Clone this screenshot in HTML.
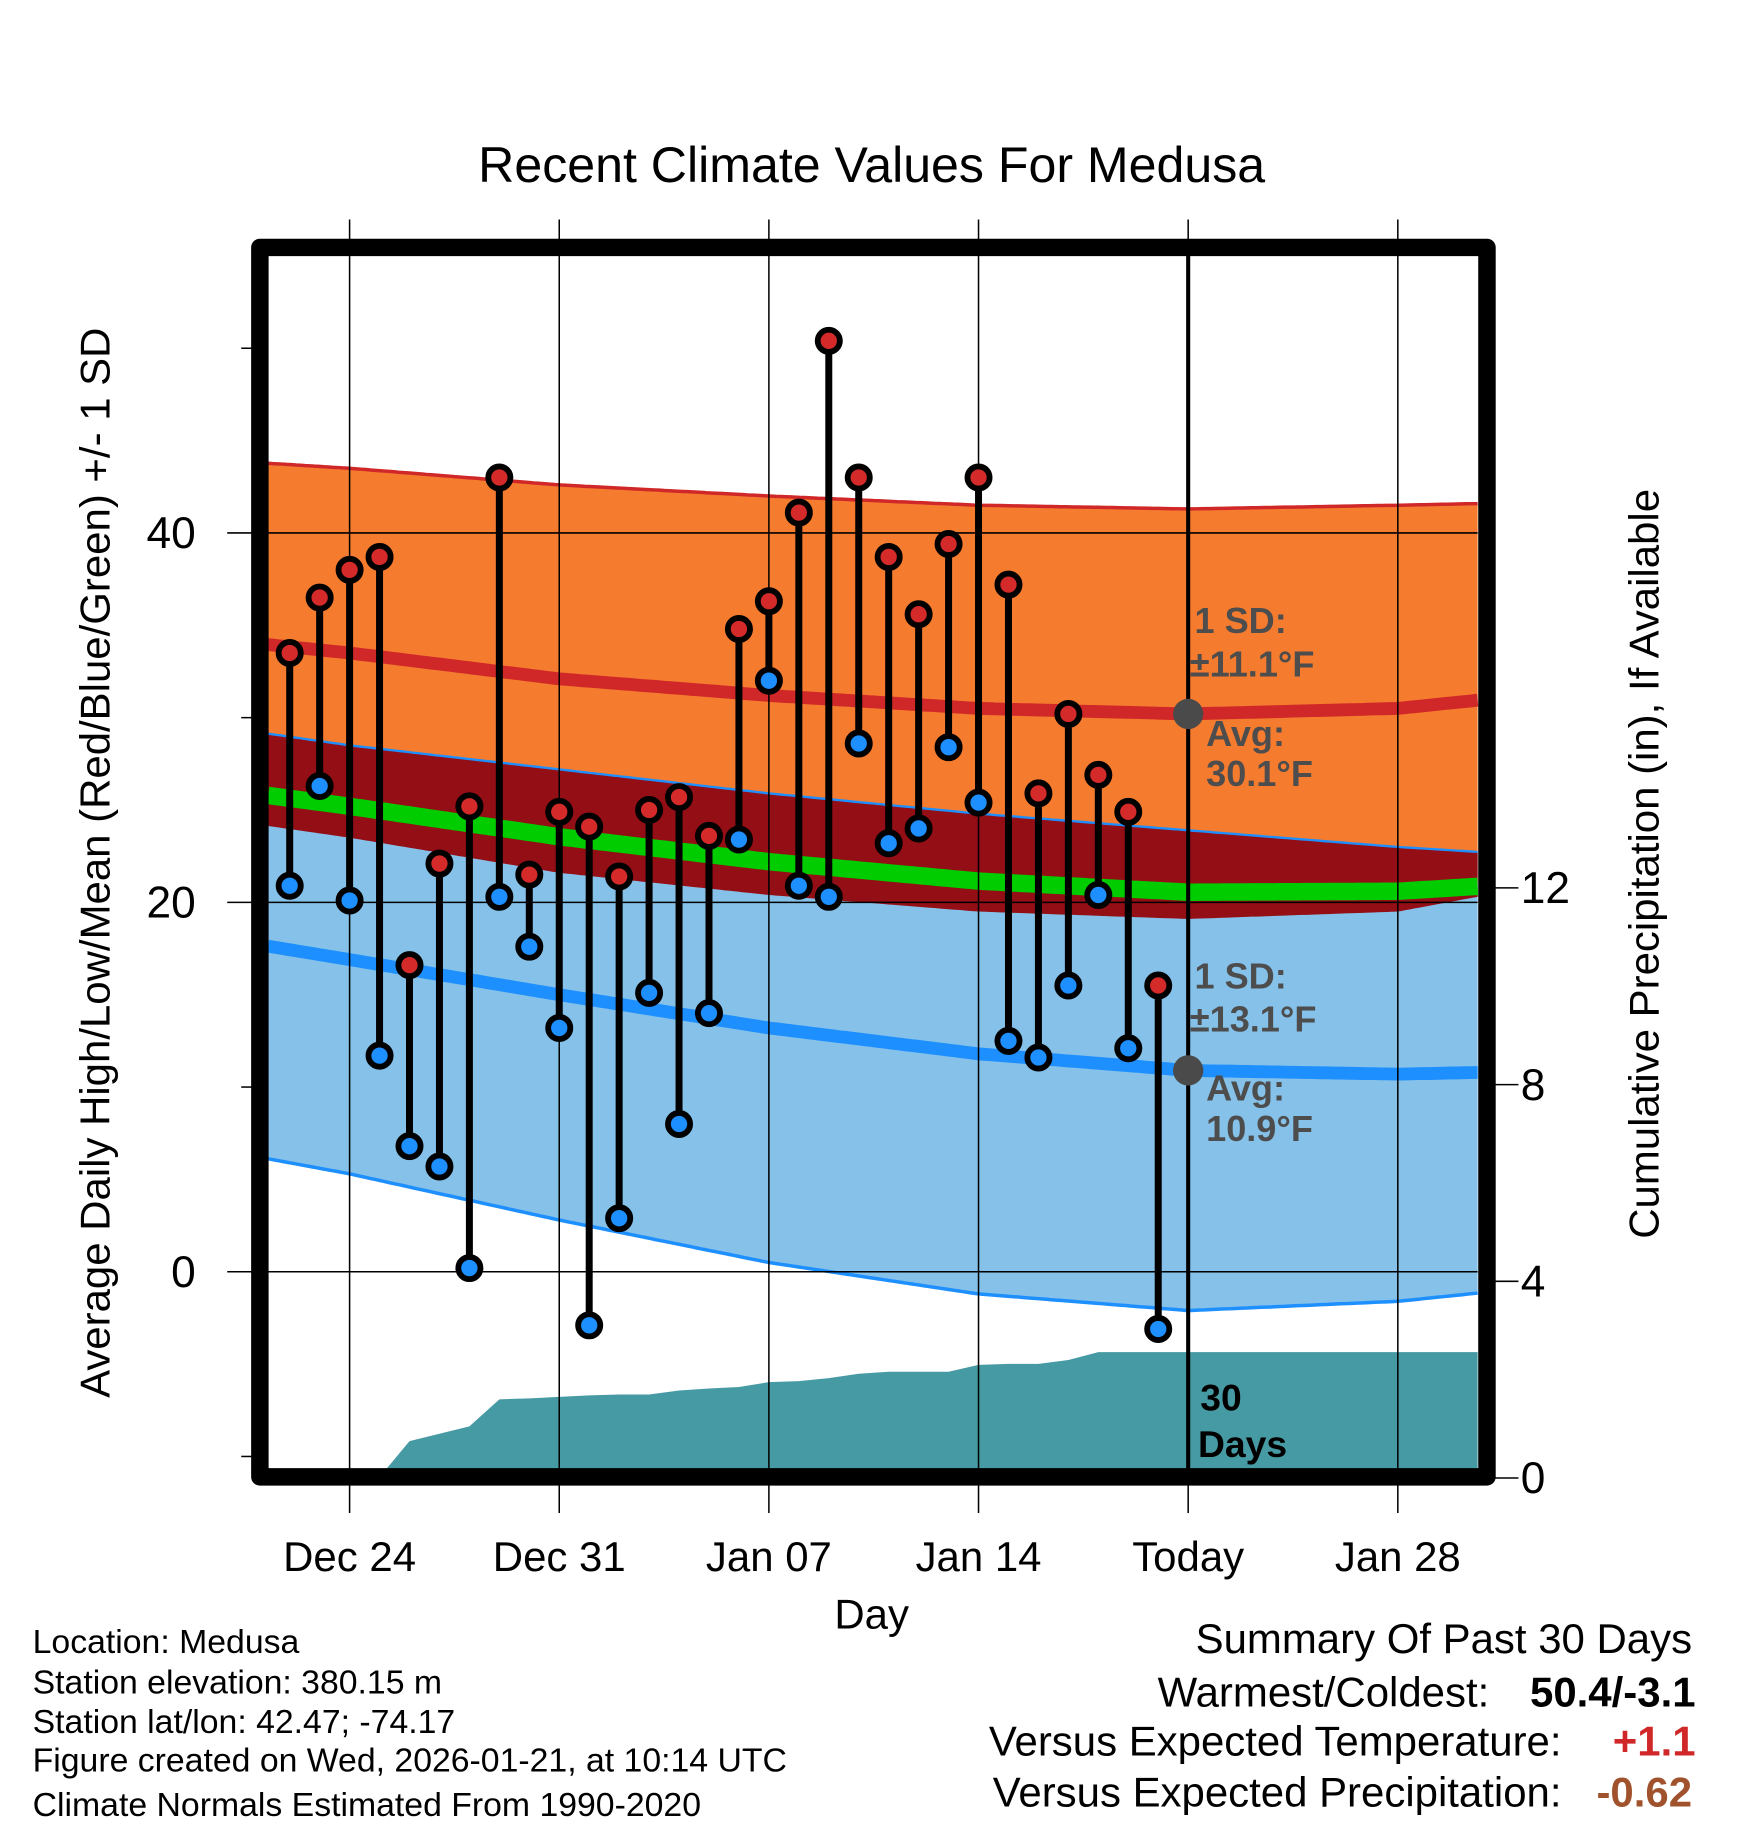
<!DOCTYPE html>
<html><head><meta charset="utf-8"><style>
html,body{margin:0;padding:0;background:#fff;}
svg{display:block;font-family:"Liberation Sans",Arial,sans-serif;}
</style></head><body>
<svg id="chart" width="1748" height="1828" viewBox="0 0 1500 1568" xmlns="http://www.w3.org/2000/svg">
<text x="748" y="156" font-size="43" text-anchor="middle">Recent Climate Values For Medusa</text>
<g id="bands"></g>
<g id="precip"></g>
<g id="grid"></g>
<g id="marks"></g>
<g id="axes"></g>
<text transform="translate(94,740) rotate(-90)" font-size="36" text-anchor="middle">Average Daily High/Low/Mean (Red/Blue/Green) +/- 1 SD</text>
<text transform="translate(1423,741) rotate(-90)" font-size="36" text-anchor="middle">Cumulative Precipitation (in), If Available</text>
<text x="748" y="1397" font-size="36" text-anchor="middle">Day</text>
<g font-size="29">
<text x="28" y="1418">Location: Medusa</text>
<text x="28" y="1453">Station elevation: 380.15 m</text>
<text x="28" y="1487">Station lat/lon: 42.47; -74.17</text>
<text x="28" y="1520">Figure created on Wed, 2026-01-21, at 10:14 UTC</text>
<text x="28" y="1558">Climate Normals Estimated From 1990-2020</text>
</g>
<g font-size="36" text-anchor="end">
<text x="1452" y="1418">Summary Of Past 30 Days</text>
<text x="1278" y="1464">Warmest/Coldest:</text>
<text x="1455" y="1464" font-weight="bold">50.4/-3.1</text>
<text x="1340" y="1506">Versus Expected Temperature:</text>
<text x="1455" y="1506" font-weight="bold" fill="#d02828">+1.1</text>
<text x="1340" y="1550">Versus Expected Precipitation:</text>
<text x="1452" y="1550" font-weight="bold" fill="#a0522d">-0.62</text>
</g>
</svg>
<script>
// Normals (day offset from Dec 24)
const normDays = [-3, 0, 7, 14, 21, 28, 35, 38];
const avgHigh = [34.0, 33.5, 32.1, 31.2, 30.5, 30.2, 30.5, 31.0];
const sdHigh = [9.8, 10.0, 10.5, 10.8, 11.0, 11.1, 11.0, 10.6];
const avgLow = [17.7, 16.9, 15.0, 13.2, 11.8, 10.9, 10.7, 10.8];
const sdLow = [11.5, 11.6, 12.2, 12.7, 13.0, 13.0, 12.3, 11.9];
// Observations Dec 22 .. Jan 20
const obsDays = [-2,-1,0,1,2,3,4,5,6,7,8,9,10,11,12,13,14,15,16,17,18,19,20,21,22,23,24,25,26,27];
const highs = [33.5,36.5,38.0,38.7,16.6,22.1,25.2,43.0,21.5,24.9,24.1,21.4,25.0,25.7,23.6,34.8,36.3,41.1,50.4,43.0,38.7,35.6,39.4,43.0,37.2,25.9,30.2,26.9,24.9,15.5];
const lows = [20.9,26.3,20.1,11.7,6.8,5.7,0.2,20.3,17.6,13.2,-2.9,2.9,15.1,8.0,14.0,23.4,32.0,20.9,20.3,28.6,23.2,24.0,28.4,25.4,12.5,11.6,15.5,20.4,12.1,-3.1];
const precip = [0,0,0,0,0.75,0.9,1.05,1.6,1.62,1.65,1.68,1.7,1.7,1.78,1.82,1.85,1.95,1.97,2.03,2.12,2.16,2.16,2.16,2.3,2.32,2.32,2.4,2.56,2.56,2.56];
const xTickDays = [0,7,14,21,28,35];
const xTickLabels = ["Dec 24","Dec 31","Jan 07","Jan 14","Today","Jan 28"];
const yTicks = [0,20,40];
const yMinor = [-10,10,30,50];
const y2Ticks = [0,4,8,12];
const todayDay = 28;

const X0=230,X1=1268,Y0=218,Y1=1260;
const xs = d => 300 + d*25.7;
const ys = t => 1091 - t*15.85;
const yp = p => 1268 - p*42.2;
const NS="http://www.w3.org/2000/svg";
function el(parent, tag, attrs){const e=document.createElementNS(NS,tag);for(const k in attrs)e.setAttribute(k,attrs[k]);parent.appendChild(e);return e;}
function interp(arr,d){for(let i=0;i<normDays.length-1;i++){if(d<=normDays[i+1]){const f=(d-normDays[i])/(normDays[i+1]-normDays[i]);return arr[i]+f*(arr[i+1]-arr[i]);}}return arr[arr.length-1];}
const samp=[];for(let x=X0;x<=X1;x+=4)samp.push(x);if(samp[samp.length-1]!==X1)samp.push(X1);
const dOf = x => (x-300)/25.7;
function curve(fn){return samp.map(x=>[x,fn(dOf(x))]);}
const hU=curve(d=>ys(interp(avgHigh,d)+interp(sdHigh,d)));
const hL=curve(d=>ys(interp(avgHigh,d)-interp(sdHigh,d)));
const lU=curve(d=>ys(interp(avgLow,d)+interp(sdLow,d)));
const lL=curve(d=>ys(interp(avgLow,d)-interp(sdLow,d)));
const hA=curve(d=>ys(interp(avgHigh,d)));
const lA=curve(d=>ys(interp(avgLow,d)));
const mA=curve(d=>ys((interp(avgHigh,d)+interp(avgLow,d))/2));
const pts=a=>a.map(p=>p[0].toFixed(1)+","+p[1].toFixed(1)).join(" ");
const band=(a,b)=>pts(a)+" "+pts(b.slice().reverse());
const bands=document.getElementById('bands');
let e;
e=el(bands,'polygon',{points:band(hU,hL),fill:'#f57b2f'});


e=el(bands,'polygon',{points:band(lU,lL),fill:'#85c1e8'});


e=el(bands,'polygon',{points:band(lU,hL),fill:'#930e15'});


el(bands,'polyline',{points:pts(hU),fill:'none',stroke:'#d02828','stroke-width':3});
el(bands,'polyline',{points:pts(lU),fill:'none',stroke:'#1e8fff','stroke-width':2});
el(bands,'polyline',{points:pts(lL),fill:'none',stroke:'#1e8fff','stroke-width':3});
e=el(bands,'polyline',{points:pts(hA),fill:'none',stroke:'#d02828','stroke-width':11});


e=el(bands,'polyline',{points:pts(lA),fill:'none',stroke:'#1e8fff','stroke-width':11});


e=el(bands,'polyline',{points:pts(mA),fill:'none',stroke:'#00cc00','stroke-width':15});



// precipitation
const pg=document.getElementById('precip');
let pp=[];
obsDays.forEach((d,i)=>{const x=Math.max(X0,xs(d));pp.push([x,Math.min(Y1,yp(precip[i]))]);});
pp[3][0]+=6;
pp.push([X1,Math.min(Y1,yp(precip[precip.length-1]))]);
let ppts=pts(pp)+` ${X1},${Y1} ${X0},${Y1}`;
e=el(pg,'polygon',{points:ppts,fill:'#469aa3'});



// grid
const g=document.getElementById('grid');
xTickDays.forEach(d=>{el(g,'line',{x1:xs(d),x2:xs(d),y1:188,y2:1298,stroke:'#000','stroke-width':1.3});});
yTicks.forEach(t=>{el(g,'line',{x1:195,x2:X1,y1:ys(t),y2:ys(t),stroke:'#000','stroke-width':1.3});});
yMinor.forEach(t=>{el(g,'line',{x1:207,x2:218,y1:ys(t),y2:ys(t),stroke:'#000','stroke-width':1.3});});
y2Ticks.forEach(p=>{el(g,'line',{x1:1276,x2:1303,y1:yp(p),y2:yp(p),stroke:'#000','stroke-width':1.3});});

// marks
const m=document.getElementById('marks');
obsDays.forEach((d,i)=>{
  const x=xs(d);
  const s=el(m,'line',{x1:x,x2:x,y1:ys(highs[i]),y2:ys(lows[i]),stroke:'#000','stroke-width':6});
  
  
});
obsDays.forEach((d,i)=>{
  const x=xs(d);
  const lo=el(m,'circle',{cx:x,cy:ys(lows[i]),r:9.5,fill:'#1e8fff',stroke:'#000','stroke-width':5});
  
  
  const hi=el(m,'circle',{cx:x,cy:ys(highs[i]),r:9.5,fill:'#d42a2a',stroke:'#000','stroke-width':5});
  
  
});
const tx=xs(todayDay);
e=el(m,'line',{x1:tx,x2:tx,y1:218,y2:Y1,stroke:'#000','stroke-width':3.5});


el(m,'circle',{cx:tx,cy:ys(interp(avgHigh,todayDay)),r:13,fill:'#4a4a4a'});
el(m,'circle',{cx:tx,cy:ys(interp(avgLow,todayDay)),r:13,fill:'#4a4a4a'});
function txt(parent,x,y,s,attrs){const t=el(parent,'text',Object.assign({x:x,y:y},attrs||{}));t.textContent=s;return t;}
const ann={fill:'#4d4d4d','font-weight':'bold','font-size':31};
txt(m,1025,543,'1 SD:',ann);txt(m,1021,580,'±11.1°F',ann);
txt(m,1035,640,'Avg:',ann);txt(m,1035,674,'30.1°F',ann);
txt(m,1025,848,'1 SD:',ann);txt(m,1021,885,'±13.1°F',ann);
txt(m,1035,944,'Avg:',ann);txt(m,1035,979,'10.9°F',ann);
txt(m,1030,1210,'30',{'font-weight':'bold','font-size':32});
txt(m,1028,1250,'Days',{'font-weight':'bold','font-size':32});

// axes/frame
const a=document.getElementById('axes');
e=el(a,'rect',{x:223,y:212,width:1053,height:1055,fill:'none',stroke:'#000','stroke-width':15,'stroke-linejoin':'round'});


xTickDays.forEach((d,i)=>{const t=txt(a,xs(d),1348,xTickLabels[i],{'font-size':36,'text-anchor':'middle'});
 
 });
yTicks.forEach(t=>{const k=txt(a,168,ys(t)+13,String(t),{'font-size':38,'text-anchor':'end'});
 
 });
y2Ticks.forEach(p=>{const k=txt(a,1305,yp(p)+13,String(p),{'font-size':38});
 
 });
</script>
</body></html>
